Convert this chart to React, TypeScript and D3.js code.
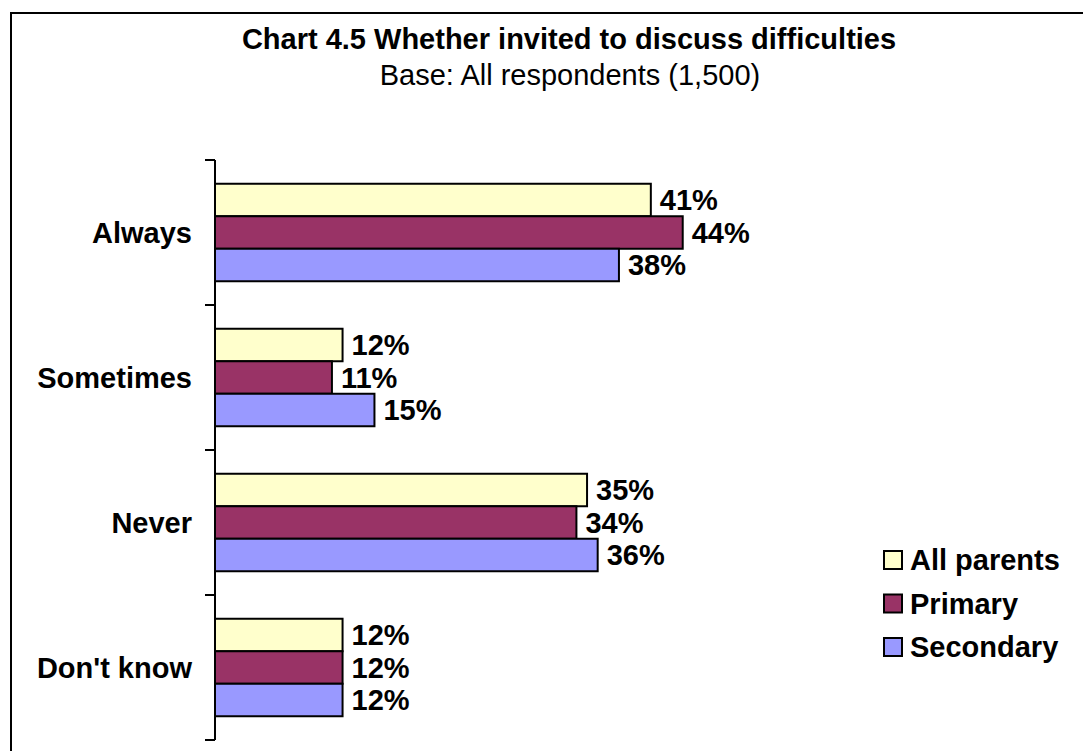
import React from "react";
import * as d3 from "d3";

const categories = ["Always", "Sometimes", "Never", "Don't know"];
const seriesNames = ["All parents", "Primary", "Secondary"];
const allParents = [41, 12, 35, 12];
const primary = [44, 11, 34, 12];
const secondary = [38, 15, 36, 12];
const seriesColors = ["#FFFFCC", "#993366", "#9999FF"];
const titleText = "Chart 4.5 Whether invited to discuss difficulties";
const subtitleText = "Base: All respondents (1,500)";

const FONT = "'Liberation Sans', Arial, Helvetica, sans-serif";
const FS = 29;

export default function App() {
  const W = 1083;
  const H = 751;
  const values = [allParents, primary, secondary];

  const x = d3.scaleLinear().domain([0, 100]).range([215, 215 + 1063]);
  const y = d3.scaleBand<string>().domain(categories).range([160, 740]).padding(0);
  const groupH = 97.5;
  const inner = d3
    .scaleBand<string>()
    .domain(seriesNames)
    .range([(y.bandwidth() - groupH) / 2, (y.bandwidth() + groupH) / 2]);

  const tickYs = categories.map((c) => y(c)!).concat([y.range()[1]]);

  return (
    <svg
      width={W}
      height={H}
      style={{ position: "absolute", left: 0, top: 0, background: "#fff" }}
      fontFamily={FONT}
    >
      <rect x={0} y={0} width={W} height={H} fill="#fff" />
      <rect x={11} y={13} width={1200} height={900} fill="none" stroke="#000" strokeWidth={2} />

      <text x={569} y={49} textAnchor="middle" fontWeight="bold" fontSize={FS}>
        {titleText}
      </text>
      <text x={570} y={85} textAnchor="middle" fontSize={FS}>
        {subtitleText}
      </text>

      {categories.map((cat, ci) =>
        seriesNames.map((s, si) => {
          const v = values[si][ci];
          const by = y(cat)! + inner(s)!;
          const bh = inner.bandwidth();
          return (
            <g key={cat + s}>
              <rect
                x={x(0)}
                y={by}
                width={x(v) - x(0)}
                height={bh}
                fill={seriesColors[si]}
                stroke="#000"
                strokeWidth={2}
              />
              <text
                x={x(v) + 9}
                y={by + bh / 2}
                dy="0.36em"
                fontWeight="bold"
                fontSize={FS}
              >
                {v + "%"}
              </text>
            </g>
          );
        })
      )}

      <line x1={215} x2={215} y1={y.range()[0]} y2={y.range()[1]} stroke="#000" strokeWidth={2} />
      {tickYs.map((ty, i) => (
        <line key={i} x1={205} x2={215} y1={ty} y2={ty} stroke="#000" strokeWidth={2} />
      ))}

      {categories.map((cat) => (
        <text
          key={cat}
          x={192}
          y={y(cat)! + y.bandwidth() / 2}
          dy="0.36em"
          textAnchor="end"
          fontWeight="bold"
          fontSize={FS}
        >
          {cat}
        </text>
      ))}

      {seriesNames.map((s, i) => {
        const cy = 560 + i * 43.5;
        return (
          <g key={s}>
            <rect x={884} y={cy - 9} width={18} height={18} fill={seriesColors[i]} stroke="#000" strokeWidth={2} />
            <text x={910} y={cy} dy="0.36em" fontWeight="bold" fontSize={FS}>
              {s}
            </text>
          </g>
        );
      })}
    </svg>
  );
}
